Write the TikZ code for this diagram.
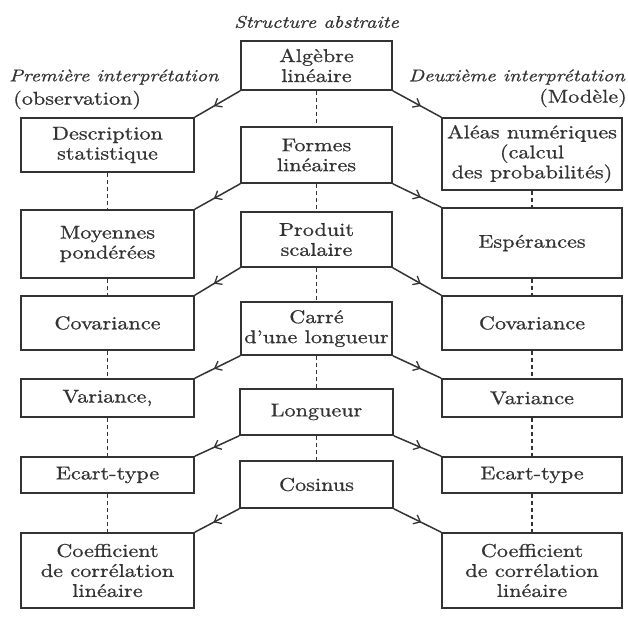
\documentclass[tikz,border=0pt]{standalone}
\usepackage{fontspec}
\setmainfont{lmroman10}[Extension=.otf,UprightFont=*-regular,ItalicFont=*-italic,FakeStretch=1.2,FakeBold=0.8]
\usetikzlibrary{arrows.meta,decorations.markings}

\newcommand\letra{\fontsize{18.5}{20}\selectfont}
\newcommand\letrita{\fontsize{17}{18}\selectfont}

\tikzset{
  caja/.style={draw=trazo, line width=1.7pt, align=center, inner sep=0pt, text=tinta},
  titulo/.style={text=tinta, inner sep=0pt, font=\letrita\itshape},
  nota/.style={text=tinta, inner sep=0pt},
  punteado/.style={draw=trazo, line width=1.5pt, dash pattern=on 4pt off 3pt},
  flecha/.style={draw=trazo, line width=1.5pt, postaction={decorate},
    decoration={markings, mark=at position 0.58 with {\arrow{Straight Barb[length=6pt,width=10pt,line width=1.3pt]}}}}
}

\begin{document}
\begin{tikzpicture}[x=1pt,y=-1pt,font=\letra]
        %colores
        \colorlet{trazo}{black!80}
        \colorlet{tinta}{black!80}
        \useasboundingbox (0,0) rectangle (628,628);

        % Titulos
        \node[titulo] (titre) at (316.5,22) {Structure abstraite};
        \node[titulo,anchor=west] (prem) at (9,77) {Première interprétation};
        \node[nota,anchor=west] (obs) at (13,100) {(observation)};
        \node[titulo,anchor=east] (deux) at (625,77) {Deuxième interprétation};
        \node[nota,anchor=east] (mod) at (627,98) {(Modèle)};

        % Columna central
        \node[caja,minimum width=151pt,minimum height=49pt] (alg) at (316.5,65.5) {Algèbre\\linéaire};
        \node[caja,minimum width=151pt,minimum height=56pt] (formes) at (316.5,155) {Formes\\linéaires};
        \node[caja,minimum width=151pt,minimum height=55pt] (prod) at (316.5,239.5) {Produit\\scalaire};
        \node[caja,minimum width=151pt,minimum height=53pt] (carre) at (316.5,328.5) {Carré\\d’une longueur};
        \node[caja,minimum width=153pt,minimum height=46pt] (long) at (316.5,412) {Longueur};
        \node[caja,minimum width=153pt,minimum height=47pt] (cos) at (316.5,484.5) {Cosinus};

        % Columna izquierda
        \node[caja,minimum width=173pt,minimum height=54pt] (desc) at (107.5,145) {Description\\statistique};
        \node[caja,minimum width=173pt,minimum height=68pt] (moy) at (107.5,244) {Moyennes\\pondérées};
        \node[caja,minimum width=173pt,minimum height=54pt] (covL) at (107.5,323) {Covariance};
        \node[caja,minimum width=173pt,minimum height=38pt] (varL) at (107.5,398) {Variance,};
        \node[caja,minimum width=173pt,minimum height=36pt] (ectL) at (107.5,475) {Ecart-type};
        \node[caja,minimum width=173pt,minimum height=75pt] (coefL) at (107.5,570.5) {Coefficient\\de corrélation\\linéaire};

        % Columna derecha
        \node[caja,minimum width=180pt,minimum height=72pt] (alea) at (532,154) {Aléas numériques\\(calcul\\des probabilités)};
        \node[caja,minimum width=180pt,minimum height=70pt] (esp) at (532,243) {Espérances};
        \node[caja,minimum width=180pt,minimum height=54pt] (covR) at (532,323) {Covariance};
        \node[caja,minimum width=180pt,minimum height=38pt] (varR) at (532,398) {Variance};
        \node[caja,minimum width=180pt,minimum height=36pt] (ectR) at (532,475) {Ecart-type};
        \node[caja,minimum width=180pt,minimum height=75pt] (coefR) at (532,570.5) {Coefficient\\de corrélation\\linéaire};

        % Punteados
        \foreach \a/\b in {alg/formes,formes/prod,prod/carre,carre/long,long/cos,
                           desc/moy,moy/covL,covL/varL,varL/ectL,ectL/coefL,
                           alea/esp,esp/covR,covR/varR,varR/ectR,ectR/coefR}
            \draw[punteado] (\a.south) -- (\b.north);

        % Flechas
        \foreach \c/\g/\d in {alg/desc/alea,formes/moy/esp,prod/covL/covR,
                              carre/varL/varR,long/ectL/ectR,cos/coefL/coefR}{
            \draw[flecha] (\c.south west) -- (\g.north east);
            \draw[flecha] (\c.south east) -- (\d.north west);
        }
    \end{tikzpicture}
\end{document}
